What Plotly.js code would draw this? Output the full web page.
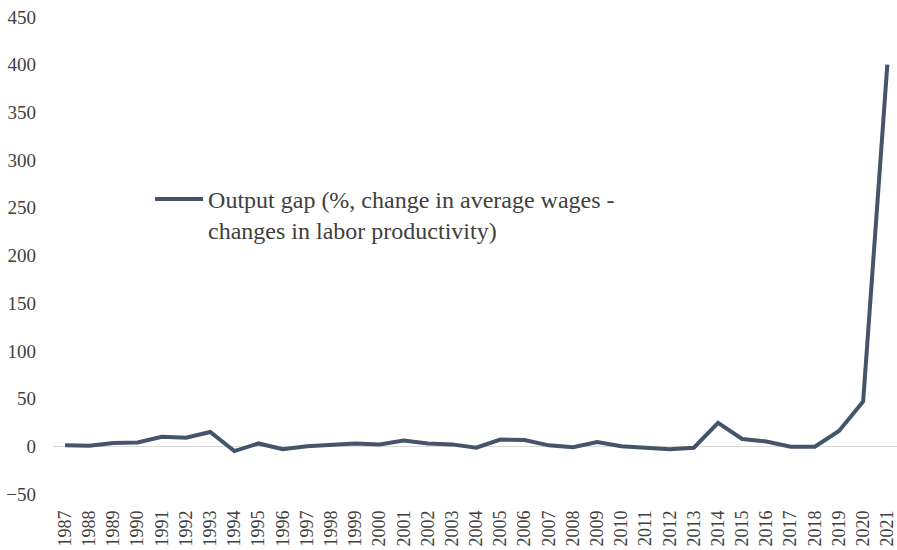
<!DOCTYPE html>
<html>
<head>
<meta charset="utf-8">
<script src="https://cdn.plot.ly/plotly-3.0.1.min.js"></script>
<style>html,body{margin:0;padding:0;background:#fff;}#chart{width:897px;height:550px;}</style>
</head>
<body>
<div id="chart"></div>
<script>
const years = [1987,1988,1989,1990,1991,1992,1993,1994,1995,1996,1997,1998,1999,2000,2001,2002,2003,2004,2005,2006,2007,2008,2009,2010,2011,2012,2013,2014,2015,2016,2017,2018,2019,2020,2021];
const outputGap = [1,0.5,3.5,4,10,9,15,-5,3,-3,0,2,3,2,6,3,2,-1.5,7,6.5,1,-1,4.5,0,-1,-3,-1.5,24.5,7.7,5,-0.5,-0.5,16,47,400];
const seriesName = 'Output gap (%, change in average wages -<br>changes in labor productivity)';
const yTicks = [-50,0,50,100,150,200,250,300,350,400,450];

const trace = {
  x: years, y: outputGap, type: 'scatter', mode: 'lines', name: seriesName,
  line: {color: '#44546A', width: 4}
};
const layout = {
  width: 897, height: 550,
  margin: {l: 53, r: 0, t: 17, b: 56},
  paper_bgcolor: '#fff', plot_bgcolor: '#fff',
  font: {family: '"Liberation Serif", "Times New Roman", serif', color: '#404040'},
  showlegend: true,
  legend: {x: 0.115, y: 0.665, xanchor: 'left', yanchor: 'top', bgcolor: 'rgba(0,0,0,0)',
           font: {size: 24, color: '#404040'}, valign: 'top', itemwidth: 48},
  xaxis: {
    range: [1986.5, 2021.4], tickmode: 'array', tickvals: years, ticktext: years.map(String),
    tickangle: -90, tickfont: {size: 18, color: '#404040'}, showgrid: false, zeroline: false,
    showline: false, ticks: '', ticklabelstandoff: 12, ticklabeloverflow: 'allow'
  },
  yaxis: {
    range: [-50, 450], tickmode: 'array', tickvals: yTicks, showgrid: false,
    zeroline: true, zerolinecolor: '#d9d9d9', zerolinewidth: 1, showline: false,
    tickfont: {size: 19, color: '#404040'}, ticks: '', ticklabelstandoff: 16
  }
};
Plotly.newPlot('chart', [trace], layout, {displayModeBar: false, staticPlot: true});
</script>
</body>
</html>
